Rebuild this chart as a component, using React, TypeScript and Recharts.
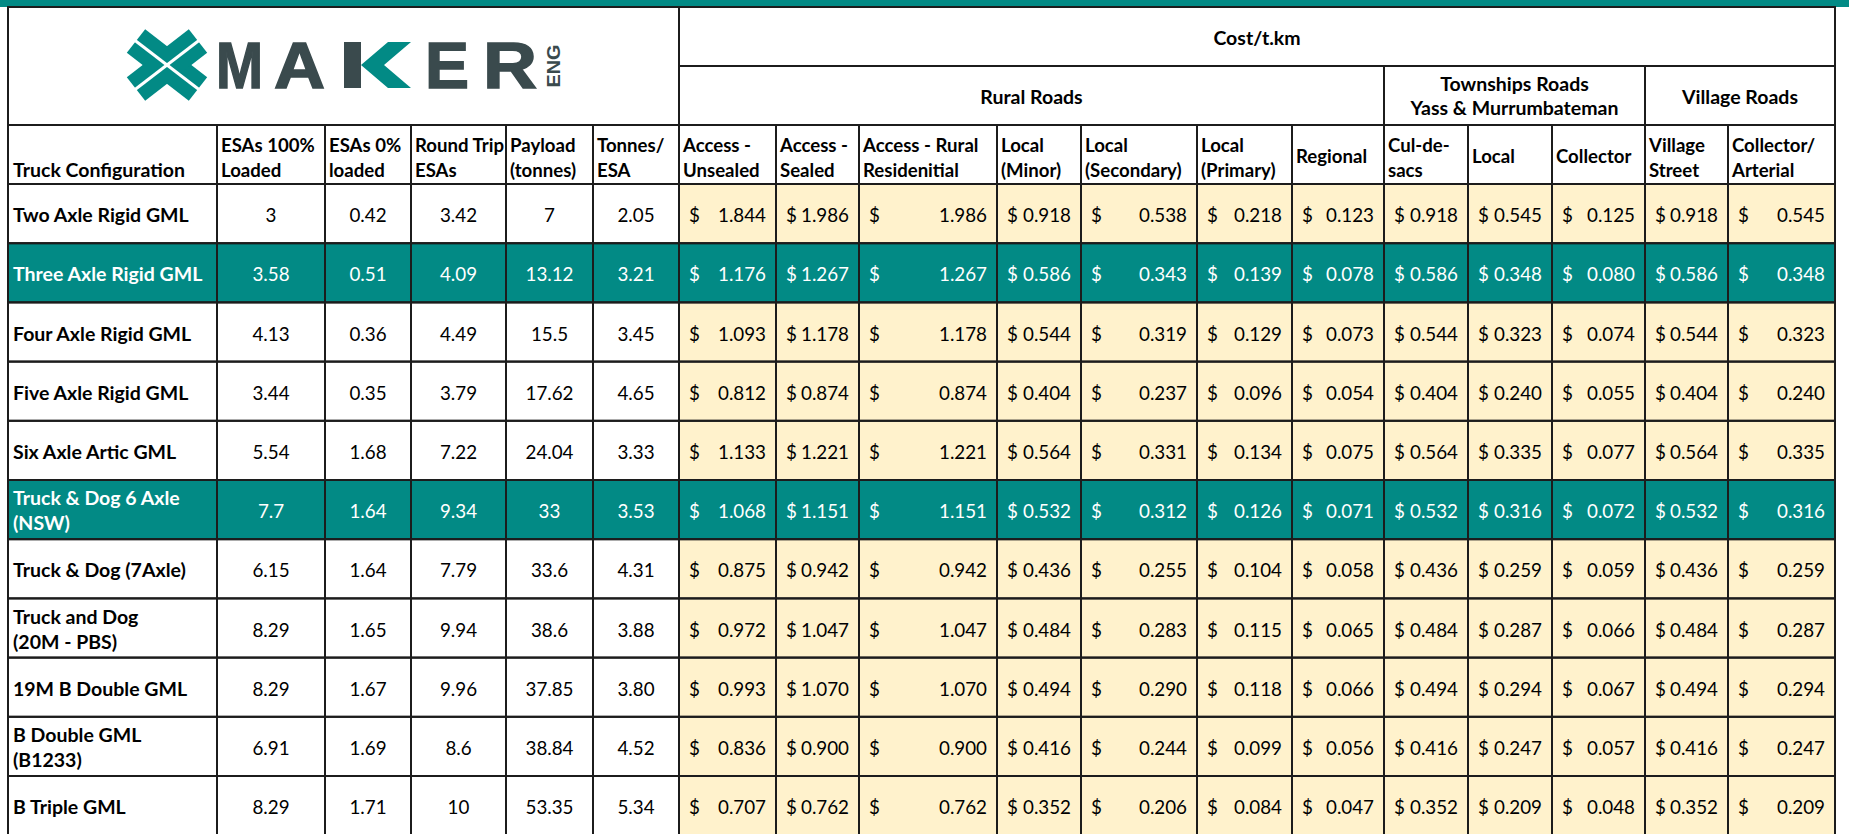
import React from "react";
import { ScatterChart, Scatter, XAxis, YAxis } from "recharts";

// Table data
const truckConfigs = [
  "Two Axle Rigid GML",
  "Three Axle Rigid GML",
  "Four Axle Rigid GML",
  "Five Axle Rigid GML",
  "Six Axle Artic GML",
  "Truck & Dog 6 Axle\n(NSW)",
  "Truck & Dog (7Axle)",
  "Truck and Dog\n(20M - PBS)",
  "19M B Double GML",
  "B Double GML\n(B1233)",
  "B Triple GML",
];
const highlightRows = [1, 5];

const esas100Loaded = [3, 3.58, 4.13, 3.44, 5.54, 7.7, 6.15, 8.29, 8.29, 6.91, 8.29];
const esas0Loaded = [0.42, 0.51, 0.36, 0.35, 1.68, 1.64, 1.64, 1.65, 1.67, 1.69, 1.71];
const roundTripEsas = [3.42, 4.09, 4.49, 3.79, 7.22, 9.34, 7.79, 9.94, 9.96, 8.6, 10];
const payloadTonnes = [7, 13.12, 15.5, 17.62, 24.04, 33, 33.6, 38.6, 37.85, 38.84, 53.35];
const tonnesPerEsa = [2.05, 3.21, 3.45, 4.65, 3.33, 3.53, 4.31, 3.88, 3.8, 4.52, 5.34];

const accessUnsealed = [1.844, 1.176, 1.093, 0.812, 1.133, 1.068, 0.875, 0.972, 0.993, 0.836, 0.707];
const accessSealed = [1.986, 1.267, 1.178, 0.874, 1.221, 1.151, 0.942, 1.047, 1.07, 0.9, 0.762];
const accessRuralRes = [1.986, 1.267, 1.178, 0.874, 1.221, 1.151, 0.942, 1.047, 1.07, 0.9, 0.762];
const localMinor = [0.918, 0.586, 0.544, 0.404, 0.564, 0.532, 0.436, 0.484, 0.494, 0.416, 0.352];
const localSecondary = [0.538, 0.343, 0.319, 0.237, 0.331, 0.312, 0.255, 0.283, 0.29, 0.244, 0.206];
const localPrimary = [0.218, 0.139, 0.129, 0.096, 0.134, 0.126, 0.104, 0.115, 0.118, 0.099, 0.084];
const regional = [0.123, 0.078, 0.073, 0.054, 0.075, 0.071, 0.058, 0.065, 0.066, 0.056, 0.047];
const townCulDeSacs = [0.918, 0.586, 0.544, 0.404, 0.564, 0.532, 0.436, 0.484, 0.494, 0.416, 0.352];
const townLocal = [0.545, 0.348, 0.323, 0.24, 0.335, 0.316, 0.259, 0.287, 0.294, 0.247, 0.209];
const townCollector = [0.125, 0.08, 0.074, 0.055, 0.077, 0.072, 0.059, 0.066, 0.067, 0.057, 0.048];
const villageStreet = [0.918, 0.586, 0.544, 0.404, 0.564, 0.532, 0.436, 0.484, 0.494, 0.416, 0.352];
const villageCollector = [0.545, 0.348, 0.323, 0.24, 0.335, 0.316, 0.259, 0.287, 0.294, 0.247, 0.209];

const metricHeaders = [
  ["ESAs 100%", "Loaded"],
  ["ESAs 0%", "loaded"],
  ["Round Trip", "ESAs"],
  ["Payload", "(tonnes)"],
  ["Tonnes/", "ESA"],
];
const costHeaders = [
  ["Access -", "Unsealed"],
  ["Access -", "Sealed"],
  ["Access - Rural", "Residenitial"],
  ["Local", "(Minor)"],
  ["Local", "(Secondary)"],
  ["Local", "(Primary)"],
  ["Regional"],
  ["Cul-de-", "sacs"],
  ["Local"],
  ["Collector"],
  ["Village", "Street"],
  ["Collector/", "Arterial"],
];
const roadGroups = [
  { label: ["Rural Roads"], first: 6, last: 12 },
  { label: ["Townships Roads", "Yass & Murrumbateman"], first: 13, last: 15 },
  { label: ["Village Roads"], first: 16, last: 17 },
];

const metricCols = [esas100Loaded, esas0Loaded, roundTripEsas, payloadTonnes, tonnesPerEsa];
const costCols = [
  accessUnsealed, accessSealed, accessRuralRes, localMinor, localSecondary, localPrimary,
  regional, townCulDeSacs, townLocal, townCollector, villageStreet, villageCollector,
];

// layout
const W = 1849;
const H = 834;
const TEAL = "#028a85";
const CREAM = "#fff2cc";
const LINE = "#1c1c1c";
const FONT = "Lato, 'Open Sans', sans-serif";
const FS_NAME = 19.5;
const FS_HEAD = 18.6;
const FS_NUM = 18.8;
const colEdges = [8, 217, 325, 411, 506, 593, 679, 776, 859, 997, 1081, 1197, 1292, 1384, 1468, 1552, 1645, 1728, 1835];
const BAR_H = 7;
const GROUP_MID = 66;
const HEAD_TOP = 125;
const HEAD_BOTTOM = 184;
const ROW_H = 59.2;

type Cell = {
  x: number;
  y: number;
  w: number;
  h: number;
  kind: string;
  fill: string;
  color: string;
  lines: string[];
  col: number;
  border: boolean;
};

const cells: Cell[] = [];
function addCell(x0: number, y0: number, x1: number, y1: number, rest: Partial<Cell>) {
  cells.push({
    x: (x0 + x1) / 2,
    y: (y0 + y1) / 2,
    w: x1 - x0,
    h: y1 - y0,
    kind: "text",
    fill: "#ffffff",
    color: "#000000",
    lines: [],
    col: -1,
    border: true,
    ...rest,
  });
}

addCell(0, 0, W, BAR_H, { kind: "bar", fill: TEAL, border: false });
addCell(colEdges[0], BAR_H, colEdges[6], HEAD_TOP, { kind: "logo" });
addCell(colEdges[6], BAR_H, colEdges[18], GROUP_MID, { kind: "group", lines: ["Cost/t.km"] });
roadGroups.forEach((g) =>
  addCell(colEdges[g.first], GROUP_MID, colEdges[g.last + 1], HEAD_TOP, { kind: "group", lines: g.label })
);
const allHeaders = [["Truck Configuration"], ...metricHeaders, ...costHeaders];
allHeaders.forEach((hd, c) =>
  addCell(colEdges[c], HEAD_TOP, colEdges[c + 1], HEAD_BOTTOM, { kind: "header", lines: hd, col: c })
);
truckConfigs.forEach((name, r) => {
  const y0 = HEAD_BOTTOM + r * ROW_H;
  const y1 = y0 + ROW_H;
  const hl = highlightRows.includes(r);
  const color = hl ? "#ffffff" : "#000000";
  addCell(colEdges[0], y0, colEdges[1], y1, {
    kind: "name", lines: name.split("\n"), fill: hl ? TEAL : "#ffffff", color, col: 0,
  });
  metricCols.forEach((arr, i) => {
    const v = i === 4 ? arr[r].toFixed(2) : String(arr[r]);
    addCell(colEdges[i + 1], y0, colEdges[i + 2], y1, {
      kind: "num", lines: [v], fill: hl ? TEAL : "#ffffff", color, col: i + 1,
    });
  });
  costCols.forEach((arr, i) => {
    addCell(colEdges[i + 6], y0, colEdges[i + 7], y1, {
      kind: "money", lines: [arr[r].toFixed(3)], fill: hl ? TEAL : CREAM, color, col: i + 6,
    });
  });
});

const FillShape = (props: any) => {
  const { cx, cy, payload } = props;
  const p = payload as Cell;
  return <rect x={cx - p.w / 2} y={cy - p.h / 2} width={p.w} height={p.h} fill={p.fill} />;
};

const Logo = ({ x0, y0 }: { x0: number; y0: number }) => {
  const dark = "#3a4a4d";
  const ic = { x: x0 + 159, y: y0 + 58 };
  const dx = 31;
  const dy = 24;
  return (
    <g>
      <line x1={ic.x - dx} y1={ic.y - dy} x2={ic.x + dx} y2={ic.y + dy} stroke={TEAL} strokeWidth={30} />
      <line x1={ic.x + dx} y1={ic.y - dy} x2={ic.x - dx} y2={ic.y + dy} stroke={TEAL} strokeWidth={30} />
      <line x1={ic.x - dx - 12} y1={ic.y - dy - 9} x2={ic.x + dx + 12} y2={ic.y + dy + 9} stroke="#fff" strokeWidth={3} />
      <line x1={ic.x + dx + 12} y1={ic.y - dy - 9} x2={ic.x - dx - 12} y2={ic.y + dy + 9} stroke="#fff" strokeWidth={3} />
      {[
        { t: "M", x: 208, w: 47 },
        { t: "A", x: 266, w: 51 },
        { t: "E", x: 417, w: 44 },
        { t: "R", x: 475, w: 54 },
      ].map((l) => (
        <text
          key={l.t}
          x={x0 + l.x}
          y={y0 + 81}
          fontFamily="'Liberation Sans', Arial, sans-serif"
          fontWeight={700}
          fontSize={64}
          fill={dark}
          stroke={dark}
          strokeWidth={1.5}
          textLength={l.w}
          lengthAdjust="spacingAndGlyphs"
        >
          {l.t}
        </text>
      ))}
      <rect x={x0 + 336} y={y0 + 35} width={17} height={46} fill={dark} />
      <polygon
        points={[
          [353, 58], [380, 35], [403, 35], [376, 58], [403, 81], [380, 81],
        ].map(([px, py]) => `${x0 + px},${y0 + py}`).join(" ")}
        fill={TEAL}
      />
      <text
        x={x0 + 545}
        y={y0 + 59}
        transform={`rotate(-90 ${x0 + 545} ${y0 + 59})`}
        textAnchor="middle"
        dominantBaseline="central"
        fontFamily="'Liberation Sans', Arial, sans-serif"
        fontWeight={700}
        fontSize={19}
        fill={dark}
        textLength={43}
        lengthAdjust="spacingAndGlyphs"
      >
        ENG
      </text>
    </g>
  );
};

const TextShape = (props: any) => {
  const { cx, cy, payload } = props;
  const p = payload as Cell;
  const x0 = cx - p.w / 2;
  const y0 = cy - p.h / 2;
  const x1 = cx + p.w / 2;
  const base = { fontFamily: FONT, fill: p.color, dominantBaseline: "central" as const };
  let content: React.ReactNode = null;
  if (p.kind === "logo") {
    content = <Logo x0={x0} y0={y0} />;
  } else if (p.kind === "group") {
    const ys = p.lines.length === 2 ? [cy - 12, cy + 12] : [cy + 1];
    content = p.lines.map((t, i) => (
      <text key={i} x={cx} y={ys[i]} textAnchor="middle" fontWeight={700} fontSize={FS_NAME} {...base}>
        {t}
      </text>
    ));
  } else if (p.kind === "header") {
    let ys = [cy - 10, cy + 15];
    if (p.lines.length === 1) ys = p.col === 0 ? [cy + 15] : [cy + 1];
    content = p.lines.map((t, i) => (
      <text key={i} x={x0 + (p.col === 0 ? 5 : 4)} y={ys[i]} fontWeight={700} fontSize={p.col === 0 ? FS_NAME : FS_HEAD} {...base}>
        {t}
      </text>
    ));
  } else if (p.kind === "name") {
    const ys = p.lines.length === 2 ? [cy - 12, cy + 13] : [cy + 1];
    content = p.lines.map((t, i) => (
      <text key={i} x={x0 + 5} y={ys[i]} fontWeight={700} fontSize={FS_NAME} {...base}>
        {t}
      </text>
    ));
  } else if (p.kind === "num") {
    content = (
      <text x={cx} y={cy + 1} textAnchor="middle" fontSize={FS_NUM} {...base}>
        {p.lines[0]}
      </text>
    );
  } else if (p.kind === "money") {
    content = (
      <g>
        <text x={x0 + 10} y={cy + 1} fontSize={FS_NUM} {...base}>
          $
        </text>
        <text x={x1 - 10} y={cy + 1} textAnchor="end" fontSize={FS_NUM} {...base}>
          {p.lines[0]}
        </text>
      </g>
    );
  }
  return (
    <g>
      {p.border && (
        <rect x={x0} y={y0} width={p.w} height={p.h} fill="none" stroke={LINE} strokeWidth={2} />
      )}
      {content}
    </g>
  );
};

export default function App() {
  return (
    <div style={{ position: "absolute", left: 0, top: 0, width: W, height: H, background: "#fff" }}>
      <ScatterChart width={W} height={H} margin={{ top: 0, right: 0, bottom: 0, left: 0 }}>
        <XAxis type="number" dataKey="x" domain={[0, W]} hide />
        <YAxis type="number" dataKey="y" domain={[0, H]} reversed hide />
        <Scatter data={cells} shape={FillShape} isAnimationActive={false} />
        <Scatter data={cells} shape={TextShape} isAnimationActive={false} />
      </ScatterChart>
    </div>
  );
}
